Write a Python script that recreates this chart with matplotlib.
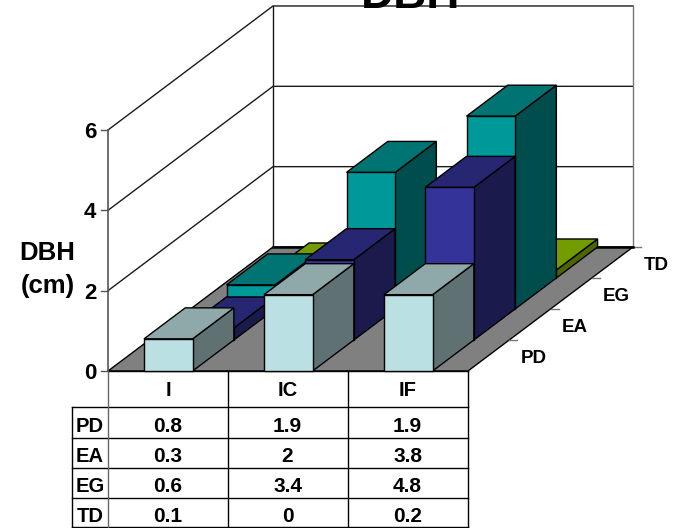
import matplotlib
matplotlib.use('Agg')
import matplotlib.pyplot as plt
from matplotlib.patches import Polygon

plt.rcParams['font.family'] = ['Liberation Sans', 'DejaVu Sans']

categories = ['I', 'IC', 'IF']
series = ['PD', 'EA', 'EG', 'TD']
pd_vals = [0.8, 1.9, 1.9]
ea_vals = [0.3, 2, 3.8]
eg_vals = [0.6, 3.4, 4.8]
td_vals = [0.1, 0, 0.2]
table_vals = [pd_vals, ea_vals, eg_vals, td_vals]
y_ticks = [0, 2, 4, 6]

# front, top, side colours per series
colors = {
    'PD': ('#BBE0E3', '#8FA8AA', '#5F7173'),
    'EA': ('#333399', '#262673', '#1A1A4D'),
    'EG': ('#009999', '#007373', '#004D4D'),
    'TD': ('#5C8000', '#739C00', '#4D6600'),
}

# oblique projection of the 3d chart, in pixels
X0, Y0 = 108, 371
CAT_W = 120
SER_DX, SER_DY = 41.25, 31
UNIT = 40.17
BAR_L, BAR_R = 0.3, 0.705


def proj(c, s, v):
    return (X0 + c * CAT_W + s * SER_DX, Y0 - s * SER_DY - v * UNIT)


fig = plt.figure(figsize=(6.73, 5.28), dpi=100)
ax = fig.add_axes([0, 0, 1, 1])
ax.set_xlim(0, 673)
ax.set_ylim(528, 0)
ax.axis('off')

n_cat = len(categories)
n_ser = len(series)
top_v = y_ticks[-1]

# floor
ax.add_patch(Polygon([proj(0, 0, 0), proj(n_cat, 0, 0), proj(n_cat, n_ser, 0), proj(0, n_ser, 0)],
                     closed=True, fc='#808080', ec='black', lw=1, zorder=1))
ax.plot(*zip(proj(0, n_ser, 0), proj(n_cat, n_ser, 0)), color='black', lw=1.8, zorder=2)

# walls and gridlines
for v in y_ticks[1:]:
    pts = [proj(0, 0, v), proj(0, n_ser, v), proj(n_cat, n_ser, v)]
    ax.plot(*zip(*pts), color='#1a1a1a', lw=1, zorder=1)
    ax.plot([X0 - 7, X0], [proj(0, 0, v)[1]] * 2, color='#555555', lw=1, zorder=1)
ax.plot(*zip(proj(0, 0, 0), proj(0, 0, top_v)), color='#555555', lw=1.2, zorder=1)
ax.plot(*zip(proj(0, n_ser, 0), proj(0, n_ser, top_v)), color='#1a1a1a', lw=1, zorder=1)
ax.plot(*zip(proj(n_cat, n_ser, 0), proj(n_cat, n_ser, top_v)), color='#777777', lw=1, zorder=1)
ax.plot([X0 - 7, X0], [Y0, Y0], color='#555555', lw=1, zorder=1)

# depth axis ticks
for s in range(1, n_ser + 1):
    x, y = proj(n_cat, s, 0)
    ax.plot([x, x + 8], [y, y], color='#777777', lw=1, zorder=1)

# bars, back row first so the front ones cover them
z = 3
for s in range(n_ser - 1, -1, -1):
    front, top, side = colors[series[s]]
    for c, v in enumerate(table_vals[s]):
        l, r = c + BAR_L, c + BAR_R
        faces = [
            ([proj(r, s, 0), proj(r, s + 1, 0), proj(r, s + 1, v), proj(r, s, v)], side),
            ([proj(l, s, v), proj(r, s, v), proj(r, s + 1, v), proj(l, s + 1, v)], top),
            ([proj(l, s, 0), proj(r, s, 0), proj(r, s, v), proj(l, s, v)], front),
        ]
        for pts, col in faces:
            ax.add_patch(Polygon(pts, closed=True, fc=col, ec='black', lw=1, joinstyle='miter', zorder=z))
        z += 1

# tick labels on the axes
for v in y_ticks:
    ax.text(96.5, proj(0, 0, v)[1] + 2.5, str(v), ha='right', va='center', fontsize=16, fontweight='bold')
for s, name in enumerate(series):
    x, y = proj(n_cat, s + 1, 0)
    ax.text(x + 11, y + 18.5, name, ha='left', va='center', fontsize=13.5, fontweight='bold')

ax.text(47.5, 260, 'DBH', ha='center', va='baseline', fontsize=18.5, fontweight='bold')
ax.text(47.5, 293, '(cm)', ha='center', va='baseline', fontsize=18.5, fontweight='bold')
ax.text(411, 8, 'DBH', ha='center', va='baseline', fontsize=33, fontweight='bold', zorder=50)

# data table under the chart
row_y = [371, 407, 438, 468, 498, 527]
col_x = [X0 + i * CAT_W for i in range(n_cat + 1)]
left_x = 72
for i, y in enumerate(row_y):
    ax.plot([left_x if i else col_x[0], col_x[-1]], [y, y], color='black', lw=1, zorder=2)
ax.plot([left_x, left_x], [row_y[1], row_y[-1]], color='black', lw=1, zorder=2)
ax.plot([col_x[0], col_x[0]], [row_y[0], row_y[-1]], color='#666666', lw=1, zorder=2)
for x in col_x[1:]:
    ax.plot([x, x], [row_y[0], row_y[-1]], color='black', lw=1, zorder=2)

for c, name in enumerate(categories):
    ax.text(col_x[c] + CAT_W / 2, (row_y[0] + row_y[1]) / 2 + 1.5, name, ha='center', va='center',
            fontsize=14.5, fontweight='bold')
for s, name in enumerate(series):
    yc = (row_y[s + 1] + row_y[s + 2]) / 2 + 3.5
    ax.text((left_x + col_x[0]) / 2, yc, name, ha='center', va='center', fontsize=14.5, fontweight='bold')
    for c, v in enumerate(table_vals[s]):
        ax.text(col_x[c] + CAT_W / 2 - 0.5, yc, str(v), ha='center', va='center', fontsize=15, fontweight='bold')

fig.savefig('out.png', dpi=100)
